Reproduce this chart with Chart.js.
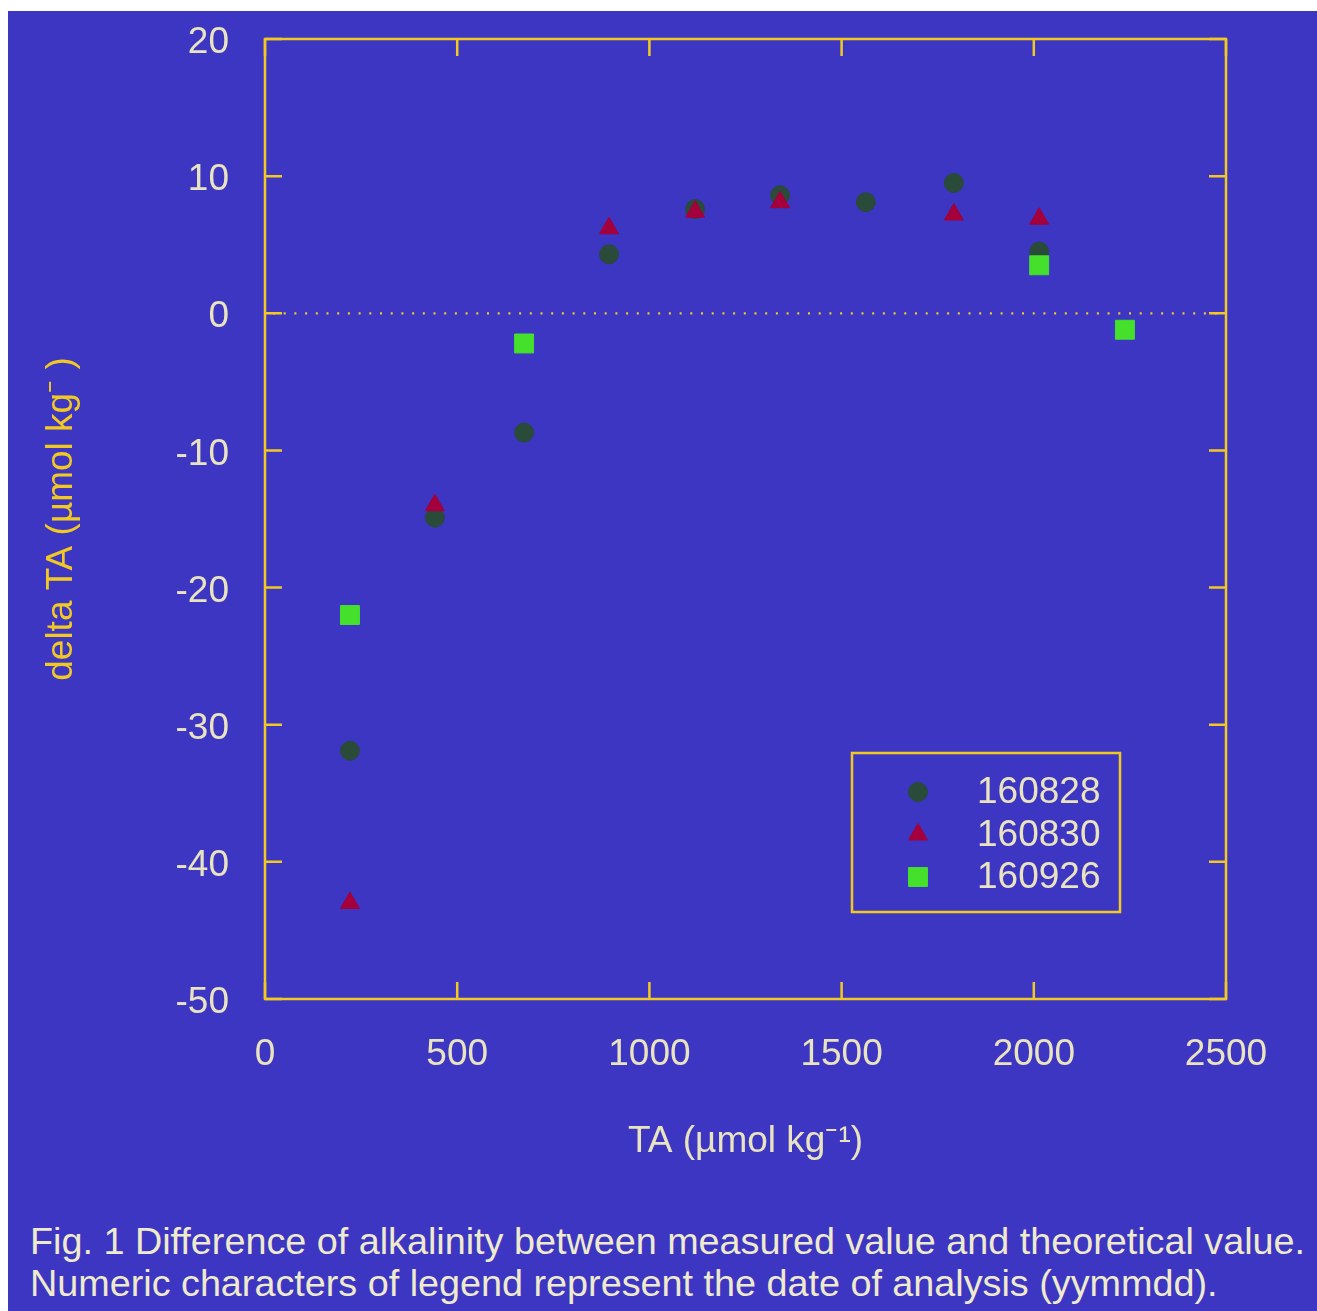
<!DOCTYPE html>
<html>
<head>
<meta charset="utf-8">
<script src="https://cdn.jsdelivr.net/npm/chart.js"></script>
<style>
  html, body { margin: 0; padding: 0; background: #ffffff; }
  #panel { position: absolute; left: 8px; top: 11px; width: 1309px; height: 1300px; background: #3c36c2; overflow: hidden; }
  #plot { position: absolute; left: 0; top: 0; }
  #caption { position: absolute; left: 22px; top: 1210px; font-family: "Liberation Sans", Arial, sans-serif;
             font-size: 36px; line-height: 42px; color: #efeacc; white-space: nowrap; transform-origin: 0 0; }
</style>
</head>
<body>
<div id="panel">
  <canvas id="plot" width="1309" height="1190"></canvas>
  <div id="caption">
    <div id="cap1">Fig. 1 Difference of alkalinity between measured value and theoretical value.</div>
    <div id="cap2">Numeric characters of legend represent the date of analysis (yymmdd).</div>
  </div>
</div>
<script>
// datos
var seriesNames = ['160828', '160830', '160926'];

var ta160828 = [221, 442, 674, 895, 1119, 1340, 1563, 1792, 2014];
var delta160828 = [-31.9, -14.9, -8.7, 4.3, 7.6, 8.6, 8.1, 9.5, 4.5];

var ta160830 = [221, 442, 674, 895, 1119, 1340, 1792, 2014];
var delta160830 = [-43.0, -14.0, -2.3, 6.2, 7.4, 8.1, 7.2, 6.9];

var ta160926 = [221, 674, 2014, 2237];
var delta160926 = [-22.0, -2.2, 3.5, -1.2];

var xTicks = [0, 500, 1000, 1500, 2000, 2500];
var yTicks = [-50, -40, -30, -20, -10, 0, 10, 20];

var yellow = '#f2c922';
var pale = '#e9e3c0';
var fontFam = '"Liberation Sans", Arial, sans-serif';

function toPoints(xs, ys) {
    return xs.map(function (x, i) { return { x: x, y: ys[i] }; });
}

// marco, marcas hacia dentro y linea de cero punteada
var framePlugin = {
    id: 'frame',
    beforeDatasetsDraw: function (chart) {
        var ctx = chart.ctx, a = chart.chartArea;
        var xs = chart.scales.x, ys = chart.scales.y;
        var len = 17;
        ctx.save();
        ctx.strokeStyle = yellow;
        ctx.lineWidth = 2.5;
        ctx.strokeRect(a.left, a.top, a.right - a.left, a.bottom - a.top);
        ctx.beginPath();
        xTicks.forEach(function (v) {
            var px = xs.getPixelForValue(v);
            ctx.moveTo(px, a.bottom); ctx.lineTo(px, a.bottom - len);
            ctx.moveTo(px, a.top); ctx.lineTo(px, a.top + len);
        });
        yTicks.forEach(function (v) {
            var py = ys.getPixelForValue(v);
            ctx.moveTo(a.left, py); ctx.lineTo(a.left + len, py);
            ctx.moveTo(a.right, py); ctx.lineTo(a.right - len, py);
        });
        ctx.stroke();
        // y = 0
        var y0 = ys.getPixelForValue(0);
        ctx.setLineDash([2, 8.7]);
        ctx.lineWidth = 2.2;
        ctx.beginPath();
        ctx.moveTo(a.left + 8, y0);
        ctx.lineTo(a.right, y0);
        ctx.stroke();
        ctx.restore();
    }
};

// leyenda dentro del area del grafico
var legendBoxPlugin = {
    id: 'legendBox',
    afterDatasetsDraw: function (chart) {
        var ctx = chart.ctx, a = chart.chartArea;
        var w = 268, h = 159;
        var left = a.right - 106 - w, top = a.bottom - 87 - h;
        ctx.save();
        ctx.strokeStyle = yellow;
        ctx.lineWidth = 2.5;
        ctx.strokeRect(left, top, w, h);
        ctx.font = '37px ' + fontFam;
        ctx.textBaseline = 'middle';
        ctx.textAlign = 'left';
        chart.data.datasets.forEach(function (ds, i) {
            var cy = top + 39 + i * 42.5;
            var cx = left + 66;
            ctx.fillStyle = ds.backgroundColor;
            ctx.strokeStyle = ds.borderColor;
            ctx.lineWidth = 1;
            if (Chart.helpers && Chart.helpers.drawPoint) {
                Chart.helpers.drawPoint(ctx, { pointStyle: ds.pointStyle, radius: ds.pointRadius, rotation: 0, borderWidth: 1 }, cx, cy);
            }
            ctx.fillStyle = pale;
            ctx.fillText(ds.label, left + 125, cy + 1);
        });
        ctx.restore();
    }
};

var ctx = document.getElementById('plot').getContext('2d');
var chart = new Chart(ctx, {
    type: 'scatter',
    data: {
        datasets: [{
            label: seriesNames[0],
            data: toPoints(ta160828, delta160828),
            pointStyle: 'circle',
            pointRadius: 9.5,
            backgroundColor: '#2a4a3a',
            borderColor: '#2a4a3a',
            borderWidth: 1,
            order: 3
        }, {
            label: seriesNames[1],
            data: toPoints(ta160830, delta160830),
            pointStyle: 'triangle',
            pointRadius: 11,
            backgroundColor: '#a3003c',
            borderColor: '#a3003c',
            borderWidth: 1,
            order: 2
        }, {
            label: seriesNames[2],
            data: toPoints(ta160926, delta160926),
            pointStyle: 'rect',
            pointRadius: 13.4,
            backgroundColor: '#44e02c',
            borderColor: '#44e02c',
            borderWidth: 1,
            order: 1
        }]
    },
    options: {
        responsive: false,
        animation: false,
        events: [],
        layout: { padding: { top: 28, right: 91, left: 0, bottom: 0 } },
        plugins: {
            legend: { display: false },
            tooltip: { enabled: false }
        },
        scales: {
            x: {
                type: 'linear',
                position: 'bottom',
                min: 0,
                max: 2500,
                grid: { display: false },
                border: { display: false },
                ticks: {
                    stepSize: 500, padding: 26, color: pale, maxRotation: 0,
                    font: { family: fontFam, size: 37 },
                    callback: function (v) { return String(v); }
                },
                title: {
                    display: true,
                    text: 'TA (µmol kg⁻¹)',
                    color: pale,
                    font: { family: fontFam, size: 37 },
                    padding: { top: 0, bottom: 37 }
                },
                afterFit: function (s) { s.height = 202; s.paddingLeft = 0; s.paddingRight = 0; }
            },
            y: {
                type: 'linear',
                position: 'left',
                min: -50,
                max: 20,
                grid: { display: false },
                border: { display: false },
                ticks: {
                    stepSize: 10, padding: 28, labelOffset: 4, color: pale,
                    font: { family: fontFam, size: 37 },
                    callback: function (v) { return String(v); }
                },
                title: {
                    display: true,
                    text: 'delta TA (µmol kg⁻ )',
                    color: yellow,
                    font: { family: fontFam, size: 37 },
                    padding: { top: 32, bottom: 0 }
                },
                afterFit: function (s) { s.width = 257; s.paddingTop = 0; s.paddingBottom = 0; }
            }
        }
    },
    plugins: [framePlugin, legendBoxPlugin]
});

// ajustar el ancho del pie de figura
var cap = document.getElementById('caption');
var w1 = document.getElementById('cap1').scrollWidth;
if (w1 > 0) {
    cap.style.transform = 'scaleX(' + (1275 / w1) + ')';
}
</script>
</body>
</html>
